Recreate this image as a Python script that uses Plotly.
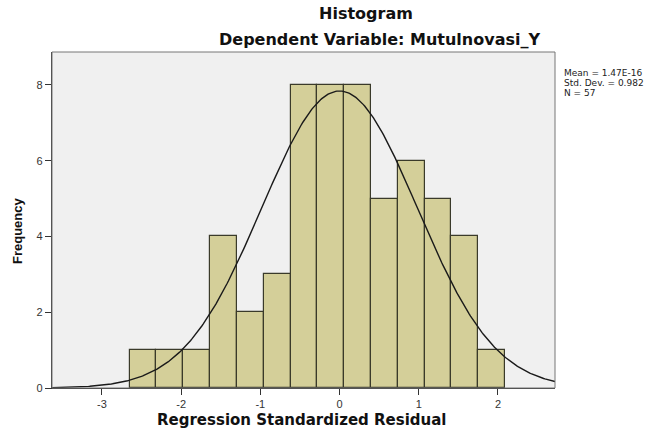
import numpy as np
import plotly.graph_objects as go

# Data
bin_start = -2.65
bin_width = 0.3386
counts = [1, 1, 1, 4, 2, 3, 8, 8, 8, 5, 6, 5, 4, 1]
mean_val = 1.47e-16
std_val = 0.982
n_obs = 57
x_ticks = [-3, -2, -1, 0, 1, 2]
x_tick_text = ["-3", "-2", "-1", "0", "1", "2"]
y_ticks = [0, 2, 4, 6, 8]
stats_lines = ["Mean = 1.47E-16", "Std. Dev. = 0.982", "N = 57"]

W, H = 665, 429
# target plot box in screenshot pixels: x 52..555, y 52..388
L, T = 52, 52
R = W - 555
B = H - 388
pw = W - L - R
ph = H - T - B

centers = [bin_start + bin_width * (i + 0.5) for i in range(len(counts))]

xr = [-3.63, 2.72]
xs = np.linspace(xr[0], xr[1], 400)
ys = n_obs * bin_width * np.exp(-0.5 * ((xs - mean_val) / std_val) ** 2) / (std_val * np.sqrt(2 * np.pi))

fig = go.Figure()
fig.add_trace(go.Bar(x=centers, y=counts, width=bin_width,
                     marker=dict(color="#D4CF99", line=dict(color="#3a3a2a", width=1.2)),
                     hoverinfo="skip"))
fig.add_trace(go.Scatter(x=xs, y=ys, mode="lines", line=dict(color="#1a1a1a", width=1.4),
                         hoverinfo="skip"))

def px_x(px):
    return (px - L) / pw

def px_y(py):
    return (H - B - py) / ph

TF = "DejaVu Sans, Liberation Sans, Arial, sans-serif"

annotations = [
    dict(text="<b>Histogram</b>", x=px_x(366), y=px_y(14),
         font=dict(size=16, color="#111", family=TF)),
    dict(text="<b>Dependent Variable: Mutulnovasi_Y</b>", x=px_x(379), y=px_y(40),
         font=dict(size=16, color="#111", family=TF)),
    dict(text="<b>Regression Standardized Residual</b>", x=px_x(301), y=px_y(420),
         font=dict(size=15, color="#111", family=TF)),
    dict(text="<b>Frequency</b>", x=px_x(17), y=px_y(231), textangle=-90,
         font=dict(size=13, color="#111", family="Liberation Sans, Arial, sans-serif")),
]
for i, s in enumerate(stats_lines):
    annotations.append(dict(text=s, x=px_x(562), y=px_y(73 + 10 * i), xanchor="left",
                            font=dict(size=9, color="#222", family=TF)))
for a in annotations:
    a.update(xref="paper", yref="paper", showarrow=False)
    a.setdefault("xanchor", "center")
    a.setdefault("yanchor", "middle")

fig.update_layout(
    width=W, height=H,
    margin=dict(l=L, r=R, t=T, b=B),
    paper_bgcolor="white",
    plot_bgcolor="#F0F0F0",
    showlegend=False,
    bargap=0,
    font=dict(family="Liberation Sans, Arial, sans-serif", color="#222"),
    xaxis=dict(range=xr, tickvals=x_ticks, ticktext=x_tick_text, ticks="outside", ticklen=6,
               tickcolor="#333", showgrid=False, zeroline=False, showline=True,
               linecolor="#333", linewidth=1.2, tickfont=dict(size=11, color="#333")),
    yaxis=dict(range=[0, 8.87], tickvals=y_ticks, ticks="outside", ticklen=6, tickcolor="#333",
               showgrid=False, zeroline=False, showline=True, linecolor="#333", linewidth=1.2,
               tickfont=dict(size=11, color="#333")),
    shapes=[
        dict(type="rect", xref="paper", yref="paper", x0=0, y0=0, x1=1, y1=1,
             line=dict(color="#777", width=1), layer="above"),
    ],
    annotations=annotations,
)

fig.write_html("out.html", config={"displayModeBar": False},
               post_script="document.body.style.margin='0';")
